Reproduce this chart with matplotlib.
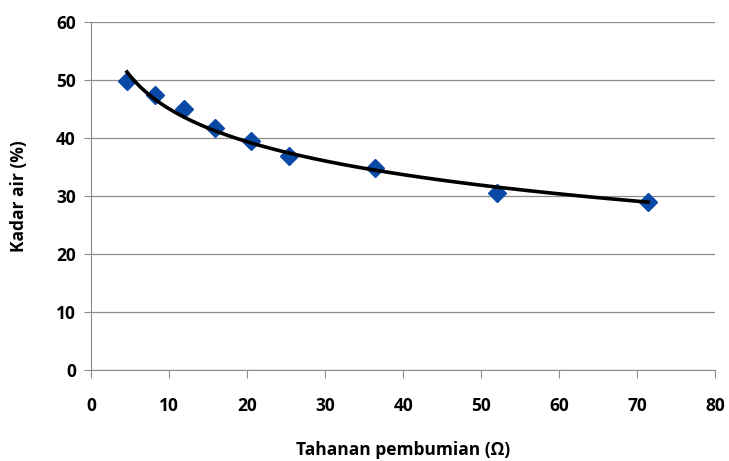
import numpy as np
import matplotlib.pyplot as plt

plt.rcParams['font.family'] = ['Open Sans', 'DejaVu Sans']
plt.rcParams['font.weight'] = 'bold'

# data
tahanan = [4.6, 8.2, 11.9, 15.9, 20.5, 25.4, 36.4, 52.0, 71.4]
kadar_air = [49.8, 47.4, 45.0, 41.7, 39.5, 36.9, 34.8, 30.5, 29.0]

fig = plt.figure(figsize=[7.29, 4.61], dpi=100)
ax = fig.add_axes([0.125, 0.197, 0.856, 0.755])

# logarithmic trend line
a, b = np.polyfit(np.log(tahanan), kadar_air, 1)
xt = np.linspace(min(tahanan), max(tahanan), 200)
ax.plot(xt, a*np.log(xt) + b, color='black', lw=2.6, zorder=3)

ax.plot(tahanan, kadar_air, 'D', color='#0a4aa6', ms=9.5, zorder=2)

ax.set_xlim(0, 80)
ax.set_ylim(0, 60)
ax.set_xticks(range(0, 81, 10))
ax.set_yticks(range(0, 61, 10))
ax.yaxis.grid(True, color='#8c8c8c', lw=0.9)
ax.set_axisbelow(True)
for s in ['top', 'right']:
    ax.spines[s].set_visible(False)
for s in ['left', 'bottom']:
    ax.spines[s].set_color('#8c8c8c')
ax.tick_params(axis='x', direction='out', length=6, color='#8c8c8c',
               labelsize=12.5, pad=13)
ax.tick_params(axis='y', direction='out', length=5, color='#8c8c8c',
               labelsize=12.5, pad=6)

ax.set_xlabel('Tahanan pembumian (Ω)', fontsize=12.5, fontweight='bold', labelpad=19)
ax.set_ylabel('Kadar air (%)', fontsize=12.5, fontweight='bold', labelpad=20)

fig.savefig('out.png', dpi=100)
